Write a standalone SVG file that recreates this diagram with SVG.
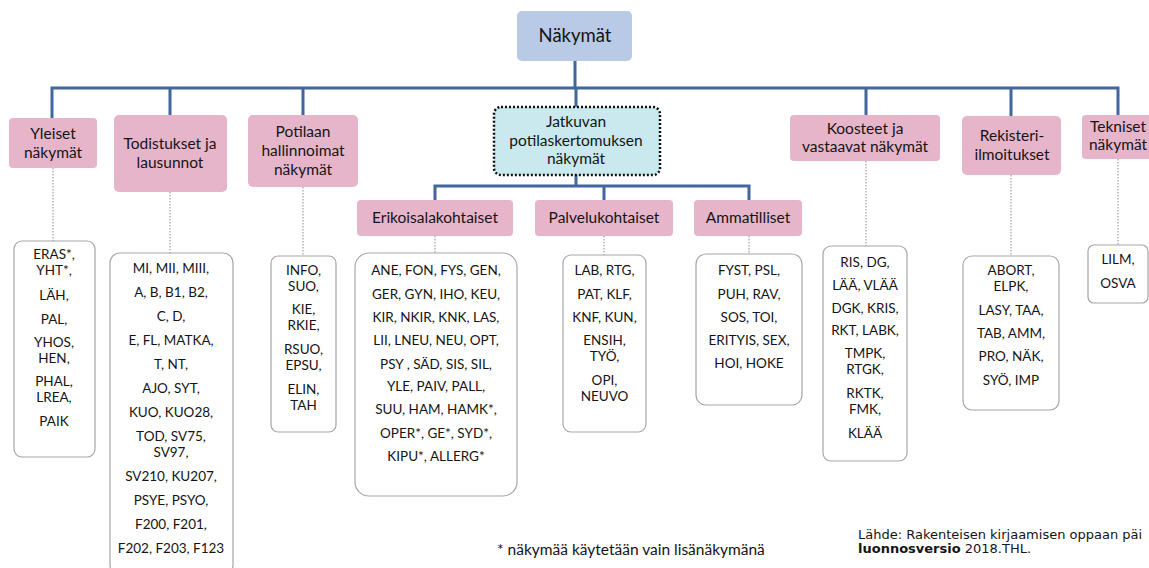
<svg xmlns="http://www.w3.org/2000/svg" width="1149" height="568" viewBox="0 0 1149 568">
<style>
.hdr{fill:#e7b5ca}
.lst{fill:#fff;stroke:#a6a6a6;stroke-width:1.2}
.t{font-family:Lato,"Open Sans",sans-serif;fill:#141414;text-anchor:middle}
.h{font-size:15.5px}
.l{font-size:13.5px}
.conn{fill:none;stroke:#41679c;stroke-width:3}
.dot{fill:none;stroke:#8c8c8c;stroke-width:1;stroke-dasharray:1.5 1.5}
</style>
<rect width="1149" height="568" fill="#fff"/>
<g id="connectors">
<path class="conn" d="M575,61V88M52,118V88H1118V115M170,88V115M303,88V115M576,88V107M866,88V115M1011,88V116"/>
<path class="conn" d="M576,175V186M435,200V186H749V200M604,186V200"/>
<path class="dot" d="M53,168V241M170,192V253M303,187V256M435,236V253M604,236V255M749,236V254M866,161V246M1011,175V256M1118,159V245"/>
</g>
<g id="nakymat">
<rect x="517" y="11" width="115" height="50" rx="5" fill="#b9cae6"/>
<text class="t" x="575" y="42" font-size="18.5">Näkymät</text>
</g>
<g id="yleiset">
<rect class="hdr" x="9" y="118" width="88" height="50" rx="4"/>
<text class="t h" x="53" y="139">Yleiset</text>
<text class="t h" x="53" y="158">näkymät</text>
</g>
<g id="todistukset">
<rect class="hdr" x="114" y="115" width="113" height="77" rx="5"/>
<text class="t h" x="170" y="149">Todistukset ja</text>
<text class="t h" x="170" y="168">lausunnot</text>
</g>
<g id="potilaan">
<rect class="hdr" x="248" y="115" width="110" height="72" rx="5"/>
<text class="t h" x="303" y="137">Potilaan</text>
<text class="t h" x="303" y="156">hallinnoimat</text>
<text class="t h" x="303" y="175">näkymät</text>
</g>
<g id="jatkuvan">
<rect x="494" y="107" width="166" height="68" rx="7" fill="#c9e9ee" stroke="#111" stroke-width="2.5" stroke-dasharray="2 2"/>
<text class="t h" x="576" y="127">Jatkuvan</text>
<text class="t h" x="576" y="146">potilaskertomuksen</text>
<text class="t h" x="576" y="164">näkymät</text>
</g>
<g id="erikoisala">
<rect class="hdr" x="357" y="200" width="156" height="36" rx="4"/>
<text class="t h" x="435" y="223">Erikoisalakohtaiset</text>
</g>
<g id="palvelu">
<rect class="hdr" x="535" y="200" width="138" height="36" rx="4"/>
<text class="t h" x="604" y="223">Palvelukohtaiset</text>
</g>
<g id="ammatilliset">
<rect class="hdr" x="694" y="200" width="108" height="36" rx="4"/>
<text class="t h" x="748" y="223">Ammatilliset</text>
</g>
<g id="koosteet">
<rect class="hdr" x="790" y="115" width="150" height="46" rx="4"/>
<text class="t h" x="865" y="134">Koosteet ja</text>
<text class="t h" x="865" y="152">vastaavat näkymät</text>
</g>
<g id="rekisteri">
<rect class="hdr" x="962" y="116" width="99" height="59" rx="5"/>
<text class="t h" x="1012" y="141">Rekisteri-</text>
<text class="t h" x="1012" y="160">ilmoitukset</text>
</g>
<g id="tekniset">
<rect class="hdr" x="1082" y="115" width="75" height="44" rx="4"/>
<text class="t h" x="1118" y="132">Tekniset</text>
<text class="t h" x="1118" y="150">näkymät</text>
</g>
<g id="yleiset-lista">
<rect class="lst" x="14" y="241" width="81" height="216" rx="8"/>
<text class="t l" x="54" y="259">ERAS*,</text>
<text class="t l" x="54" y="275">YHT*,</text>
<text class="t l" x="54" y="300">LÄH,</text>
<text class="t l" x="54" y="324">PAL,</text>
<text class="t l" x="54" y="347">YHOS,</text>
<text class="t l" x="54" y="363">HEN,</text>
<text class="t l" x="54" y="386">PHAL,</text>
<text class="t l" x="54" y="402">LREA,</text>
<text class="t l" x="54" y="426">PAIK</text>
</g>
<g id="todistukset-lista">
<rect class="lst" x="110" y="253" width="123" height="322" rx="10"/>
<text class="t l" x="171" y="273">MI, MII, MIII,</text>
<text class="t l" x="171" y="297">A, B, B1, B2,</text>
<text class="t l" x="171" y="321">C, D,</text>
<text class="t l" x="171" y="345">E, FL, MATKA,</text>
<text class="t l" x="171" y="369">T, NT,</text>
<text class="t l" x="171" y="393">AJO, SYT,</text>
<text class="t l" x="171" y="417">KUO,  KUO28,</text>
<text class="t l" x="171" y="441">TOD, SV75,</text>
<text class="t l" x="171" y="457">SV97,</text>
<text class="t l" x="171" y="481">SV210, KU207,</text>
<text class="t l" x="171" y="505">PSYE, PSYO,</text>
<text class="t l" x="171" y="529">F200, F201,</text>
<text class="t l" x="171" y="553">F202, F203, F123</text>
</g>
<g id="potilaan-lista">
<rect class="lst" x="271" y="256" width="65" height="176" rx="7"/>
<text class="t l" x="303.5" y="275">INFO,</text>
<text class="t l" x="303.5" y="291">SUO,</text>
<text class="t l" x="303.5" y="314">KIE,</text>
<text class="t l" x="303.5" y="330">RKIE,</text>
<text class="t l" x="303.5" y="354">RSUO,</text>
<text class="t l" x="303.5" y="370">EPSU,</text>
<text class="t l" x="303.5" y="394">ELIN,</text>
<text class="t l" x="303.5" y="410">TAH</text>
</g>
<g id="erikoisala-lista">
<rect class="lst" x="355" y="253" width="162" height="243" rx="14"/>
<text class="t l" x="436" y="275">ANE, FON, FYS, GEN,</text>
<text class="t l" x="436" y="299">GER, GYN, IHO, KEU,</text>
<text class="t l" x="436" y="322">KIR, NKIR, KNK, LAS,</text>
<text class="t l" x="436" y="345">LII, LNEU, NEU, OPT,</text>
<text class="t l" x="436" y="369">PSY , SÄD, SIS, SIL,</text>
<text class="t l" x="436" y="391">YLE, PAIV, PALL,</text>
<text class="t l" x="436" y="414">SUU, HAM, HAMK*,</text>
<text class="t l" x="436" y="438">OPER*, GE*, SYD*,</text>
<text class="t l" x="436" y="461">KIPU*, ALLERG*</text>
</g>
<g id="palvelu-lista">
<rect class="lst" x="563" y="255" width="83" height="177" rx="8"/>
<text class="t l" x="604.5" y="275">LAB, RTG,</text>
<text class="t l" x="604.5" y="299">PAT, KLF,</text>
<text class="t l" x="604.5" y="322">KNF, KUN,</text>
<text class="t l" x="604.5" y="345">ENSIH,</text>
<text class="t l" x="604.5" y="361">TYÖ,</text>
<text class="t l" x="604.5" y="385">OPI,</text>
<text class="t l" x="604.5" y="401">NEUVO</text>
</g>
<g id="ammatilliset-lista">
<rect class="lst" x="696" y="254" width="106" height="151" rx="10"/>
<text class="t l" x="749" y="275">FYST, PSL,</text>
<text class="t l" x="749" y="299">PUH, RAV,</text>
<text class="t l" x="749" y="322">SOS, TOI,</text>
<text class="t l" x="749" y="345">ERITYIS, SEX,</text>
<text class="t l" x="749" y="368">HOI, HOKE</text>
</g>
<g id="koosteet-lista">
<rect class="lst" x="823" y="246" width="84" height="215" rx="8"/>
<text class="t l" x="865" y="267">RIS, DG,</text>
<text class="t l" x="865" y="290">LÄÄ, VLÄÄ</text>
<text class="t l" x="865" y="313">DGK, KRIS,</text>
<text class="t l" x="865" y="335">RKT, LABK,</text>
<text class="t l" x="865" y="358">TMPK,</text>
<text class="t l" x="865" y="374">RTGK,</text>
<text class="t l" x="865" y="398">RKTK,</text>
<text class="t l" x="865" y="414">FMK,</text>
<text class="t l" x="865" y="438">KLÄÄ</text>
</g>
<g id="rekisteri-lista">
<rect class="lst" x="963" y="256" width="96" height="154" rx="9"/>
<text class="t l" x="1011" y="275">ABORT,</text>
<text class="t l" x="1011" y="291">ELPK,</text>
<text class="t l" x="1011" y="315">LASY, TAA,</text>
<text class="t l" x="1011" y="338">TAB, AMM,</text>
<text class="t l" x="1011" y="361">PRO, NÄK,</text>
<text class="t l" x="1011" y="385">SYÖ, IMP</text>
</g>
<g id="tekniset-lista">
<rect class="lst" x="1088" y="245" width="60" height="58" rx="6"/>
<text class="t l" x="1118" y="264">LILM,</text>
<text class="t l" x="1118" y="288">OSVA</text>
</g>
<g id="footer">
<text x="497" y="555" font-family="Lato,'Open Sans',sans-serif" font-size="15.5" fill="#141414">* näkymää käytetään vain lisänäkymänä</text>
<text x="858" y="539" font-family="'DejaVu Sans',Verdana,sans-serif" font-size="13" fill="#141414">Lähde: Rakenteisen kirjaamisen oppaan päi</text>
<text x="858" y="553" font-family="'DejaVu Sans',Verdana,sans-serif" font-size="13" fill="#141414"><tspan font-weight="bold">luonnosversio</tspan> 2018.THL.</text>
</g>
</svg>
